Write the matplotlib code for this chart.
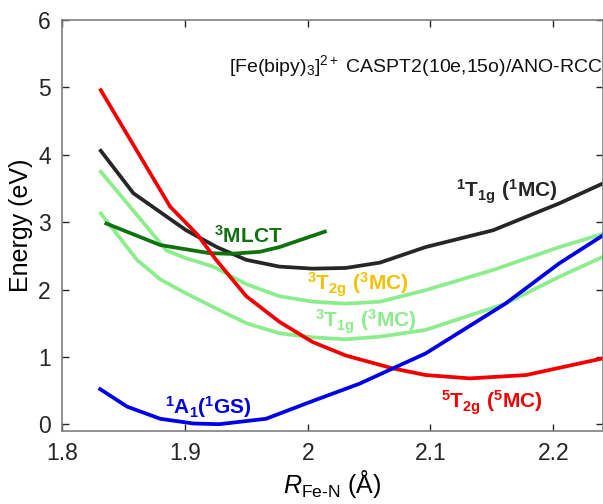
import matplotlib.pyplot as plt
from matplotlib import font_manager

# MATLAB-like narrow Helvetica if available
names = {f.name for f in font_manager.fontManager.ttflist}
FONT = 'Liberation Sans Narrow' if 'Liberation Sans Narrow' in names else 'Liberation Sans'

plt.rcParams['font.family'] = [FONT, 'DejaVu Sans']
plt.rcParams['mathtext.fontset'] = 'custom'
plt.rcParams['mathtext.rm'] = FONT
plt.rcParams['mathtext.it'] = FONT + ':italic'
plt.rcParams['mathtext.bf'] = FONT + ':bold'

# potential energy curves (R in Angstrom, E in eV)
r_gs = [1.831, 1.853, 1.88, 1.907, 1.928, 1.966, 2.002, 2.042, 2.096, 2.161, 2.205, 2.241]
e_gs = [0.52, 0.26, 0.08, 0.01, 0.00, 0.08, 0.33, 0.60, 1.05, 1.79, 2.39, 2.81]

r_5mc = [1.8315, 1.888, 1.91, 1.925, 1.95, 1.977, 2.004, 2.031, 2.069, 2.096, 2.132, 2.178, 2.241]
e_5mc = [4.96, 3.23, 2.82, 2.45, 1.90, 1.52, 1.22, 1.02, 0.83, 0.73, 0.68, 0.73, 0.98]

r_1mc = [1.8315, 1.858, 1.901, 1.926, 1.95, 1.977, 2.004, 2.031, 2.059, 2.096, 2.151, 2.205, 2.241]
e_1mc = [4.06, 3.43, 2.88, 2.63, 2.44, 2.34, 2.31, 2.32, 2.40, 2.63, 2.88, 3.28, 3.58]

r_mlct = [1.836, 1.88, 1.92, 1.937, 1.961, 1.977, 2.014]
e_mlct = [2.98, 2.66, 2.54, 2.53, 2.56, 2.63, 2.86]

r_3t2g = [1.8315, 1.885, 1.90, 1.923, 1.95, 1.977, 2.004, 2.031, 2.059, 2.096, 2.151, 2.205, 2.241]
e_3t2g = [3.75, 2.58, 2.47, 2.34, 2.08, 1.90, 1.82, 1.79, 1.82, 1.99, 2.29, 2.63, 2.83]

r_3t1g = [1.8315, 1.861, 1.88, 1.896, 1.923, 1.95, 1.977, 2.004, 2.031, 2.059, 2.096, 2.161, 2.205, 2.241]
e_3t1g = [3.13, 2.44, 2.15, 1.99, 1.74, 1.50, 1.35, 1.29, 1.26, 1.30, 1.40, 1.79, 2.19, 2.49]

red = '#f20000'
blue = '#0000e6'
black = '#262626'
dkgreen = '#0e720e'
ltgreen = '#8ced8c'
gold = '#f2c200'

fig = plt.figure(figsize=(6.03, 5.04), dpi=100)
ax = fig.add_axes([0.103, 0.145, 0.897, 0.815])

lw = 2.7
ax.plot(r_3t1g, e_3t1g, color=ltgreen, lw=lw)
ax.plot(r_3t2g, e_3t2g, color=ltgreen, lw=lw)
ax.plot(r_1mc, e_1mc, color=black, lw=lw)
ax.plot(r_mlct, e_mlct, color=dkgreen, lw=lw)
ax.plot(r_5mc, e_5mc, color=red, lw=lw)
ax.plot(r_gs, e_gs, color=blue, lw=lw)

kw = dict(fontsize=15, fontweight='bold', ha='center', va='baseline')
ax.text(2.162, 3.36, r'$^\mathbf{1}$T$_\mathbf{1g}$ ($^\mathbf{1}$MC)', color=black, **kw)
ax.text(1.952, 2.69, r'$^\mathbf{3}$MLCT', color=dkgreen, **kw)
ax.text(2.041, 1.99, r'$^\mathbf{3}$T$_\mathbf{2g}$ ($^\mathbf{3}$MC)', color=gold, **kw)
ax.text(2.047, 1.43, r'$^\mathbf{3}$T$_\mathbf{1g}$ ($^\mathbf{3}$MC)', color=ltgreen, **kw)
ax.text(1.919, 0.16, r'$^\mathbf{1}$A$_\mathbf{1}$($^\mathbf{1}$GS)', color=blue, **kw)
ax.text(2.15, 0.24, r'$^\mathbf{5}$T$_\mathbf{2g}$ ($^\mathbf{5}$MC)', color=red, **kw)

ax.text(2.2405, 5.23, r'[Fe(bipy)$_3$]$^{2+}$ CASPT2(10e,15o)/ANO-RCC',
        fontsize=14, ha='right', va='baseline', color='#111111')

ax.set_xlim(1.8, 2.2405)
ax.set_ylim(-0.1, 6)
ax.set_xticks([1.8, 1.9, 2.0, 2.1, 2.2])
ax.set_xticklabels(['1.8', '1.9', '2', '2.1', '2.2'])
ax.set_yticks([0, 1, 2, 3, 4, 5, 6])
ax.tick_params(direction='in', length=5, width=1, labelsize=16.5, colors='#262626',
               top=True, right=True, pad=8)
for s in ax.spines.values():
    s.set_color('#7f7f7f')
    s.set_linewidth(1.2)

ax.set_ylabel('Energy (eV)', fontsize=18, labelpad=4)
ax.set_xlabel('$R_{\\mathrm{Fe\u2010N}}$ (\u00c5)', fontsize=18, labelpad=2)

fig.savefig('out.png', dpi=100)
